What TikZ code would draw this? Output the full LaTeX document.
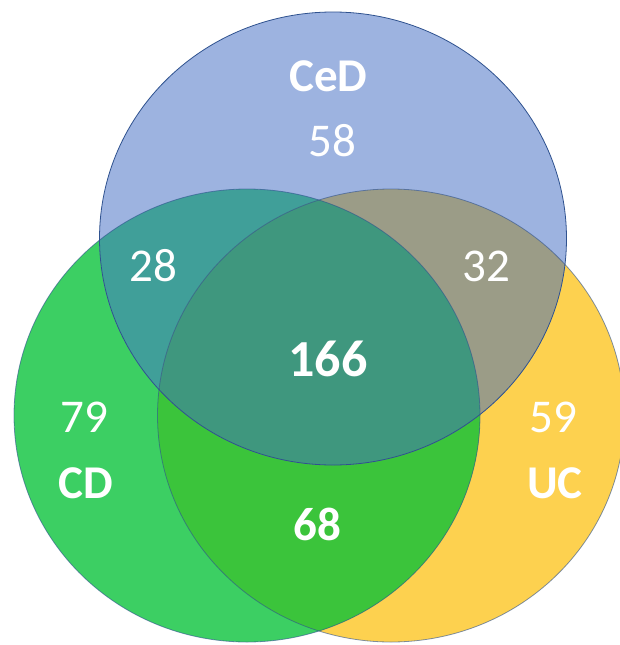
\documentclass[tikz,border=0pt]{standalone}
\usepackage{fontspec}
\setmainfont{Carlito}
\definecolor{cedblue}{HTML}{9DB3E0}
\definecolor{cdgreen}{HTML}{3CCF63}
\definecolor{ucyellow}{HTML}{FDD14F}
\definecolor{cduc}{HTML}{3BC43B}
\definecolor{cedcd}{HTML}{409F99}
\definecolor{ceduc}{HTML}{9B9C87}
\definecolor{allthree}{HTML}{3F977E}
\definecolor{rim}{HTML}{2F528F}
\begin{document}
\begin{tikzpicture}[x=1pt, y=-1pt,
        count/.style={text=white, inner sep=0pt, font=\fontsize{47}{56}\selectfont},
        tag/.style={count, font=\fontsize{47}{56}\selectfont\bfseries},
        rimline/.style={draw=rim, line width=0.8pt}]
    \fill[white] (0,0) rectangle (619,645);
    \useasboundingbox (0,0) rectangle (619,645);
    % centres of the three sets
    \coordinate (ced) at (333,238.5);
    \coordinate (cd) at (247,415.5);
    \coordinate (uc) at (391,415.5);
    \def\setCeD{(ced) ellipse [x radius=233.5pt, y radius=226.5pt]}
    \def\setCD{(cd) ellipse [x radius=233pt, y radius=226.5pt]}
    \def\setUC{(uc) ellipse [x radius=233.5pt, y radius=226.5pt]}
    % single regions
    \fill[ucyellow] \setUC;
    \fill[cdgreen] \setCD;
    \fill[cedblue] \setCeD;
    % overlaps
    \begin{scope}
        \clip \setCD;
        \fill[cduc] \setUC;
    \end{scope}
    \begin{scope}
        \clip \setCeD;
        \fill[cedcd] \setCD;
        \fill[ceduc] \setUC;
        \clip \setCD;
        \fill[allthree] \setUC;
    \end{scope}
    % outlines
    \draw[rimline, opacity=0.6] \setUC;
    \draw[rimline, opacity=0.6] \setCD;
    \draw[rimline] \setCeD;
    % labels
    \node[tag] (cedname) at (328.5,76) {CeD};
    \node[count] (ced58) at (332.5,140.5) {58};
    \node[count] (cedcd28) at (153.5,266) {28};
    \node[count] (ceduc32) at (486,266) {32};
    \node[tag, font=\fontsize{52}{62}\selectfont\bfseries] (all166) at (328,358.5) {166};
    \node[count] (cd79) at (84,417) {79};
    \node[tag] (cdname) at (86,483) {CD};
    \node[count] (uc59) at (553,417) {59};
    \node[tag] (ucname) at (555,483) {UC};
    \node[tag] (cduc68) at (317,524) {68};
\end{tikzpicture}
\end{document}
